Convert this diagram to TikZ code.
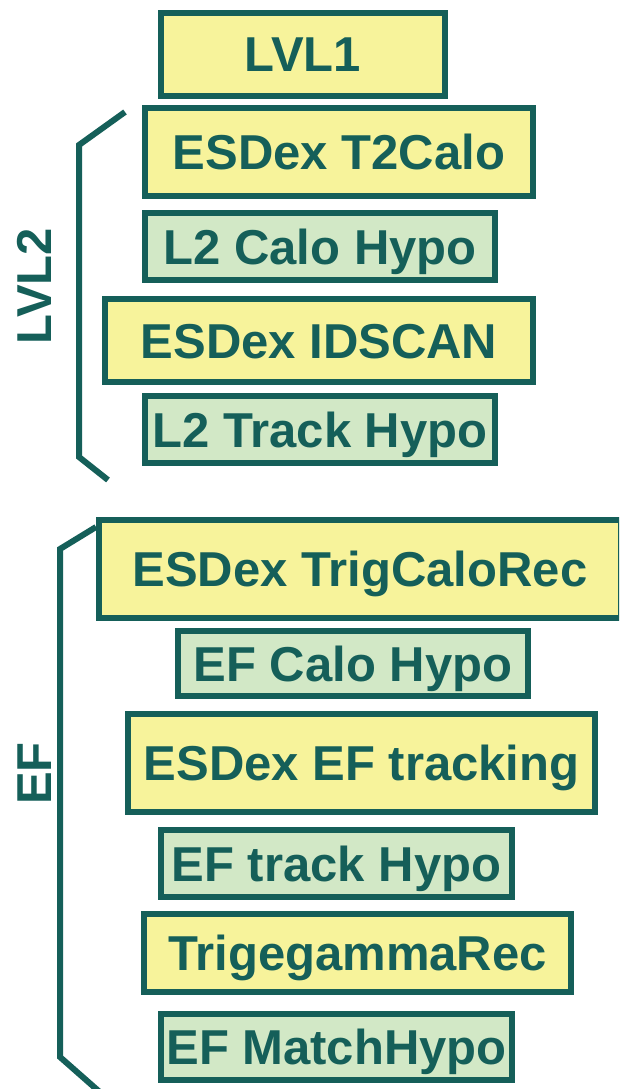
\documentclass[tikz,border=0pt]{standalone}
\usepackage{fontspec}
\setmainfont{Liberation Sans}
\definecolor{teal}{HTML}{155F59}
\definecolor{algyellow}{HTML}{F7F39B}
\definecolor{hypogreen}{HTML}{D2E8C6}
\begin{document}
\begin{tikzpicture}[x=1pt,y=-1pt,
  stagebox/.style={draw=teal, line width=6pt, inner sep=0pt,
    text=teal, font=\fontsize{49}{58}\selectfont\bfseries,
    text height=35pt, text depth=0pt, align=center},
  algbox/.style={stagebox, fill=algyellow},
  hypobox/.style={stagebox, fill=hypogreen},
  levellabel/.style={text=teal, font=\fontsize{49}{58}\selectfont\bfseries,
    text height=35pt, text depth=0pt, inner sep=0pt, rotate=90},
  bracket/.style={draw=teal, line width=6pt, line join=miter}]
\useasboundingbox (0,0) rectangle (619,1089);
\clip (0,0) rectangle (619,1089);
\fill[white] (0,0) rectangle (619,1089);

% level 1
\node[algbox, minimum width=284pt, minimum height=83pt] (lvl1) at (303,54.5) {LVL1};

% level 2 chain
\node[algbox, minimum width=388pt, minimum height=88pt] (t2calo) at (339,152) {ESDex T2Calo};
\node[hypobox, minimum width=350pt, minimum height=67pt] (l2calo) at (320,246.5) {L2 Calo Hypo};
\node[algbox, minimum width=428pt, minimum height=83pt] (idscan) at (319,340.5) {ESDex IDSCAN};
\node[hypobox, minimum width=350pt, minimum height=67pt] (l2track) at (320,429.5) {L2 Track Hypo};

% event filter chain
\node[algbox, minimum width=522pt, minimum height=98pt] (calorec) at (360,569) {ESDex TrigCaloRec};
\node[hypobox, minimum width=350pt, minimum height=65pt] (efcalo) at (353,663.5) {EF Calo Hypo};
\node[algbox, minimum width=467pt, minimum height=98pt] (eftracking) at (361.5,763) {ESDex EF tracking};
\node[hypobox, minimum width=351pt, minimum height=67pt] (eftrack) at (336.5,863.5) {EF track Hypo};
\node[algbox, minimum width=427pt, minimum height=78pt] (egamma) at (357.5,953) {TrigegammaRec};
\node[hypobox, minimum width=351pt, minimum height=66pt] (efmatch) at (336.5,1047) {EF MatchHypo};

% level brackets
\draw[bracket] (125,112) -- (79,145) -- (79,457) -- (108,480);
\draw[bracket] (96,527) -- (60,549) -- (60,1057) -- (102,1094);

\node[levellabel] (lvl2label) at (34,286) {LVL2};
\node[levellabel] (eflabel) at (33.5,773.5) {EF};
\end{tikzpicture}
\end{document}
